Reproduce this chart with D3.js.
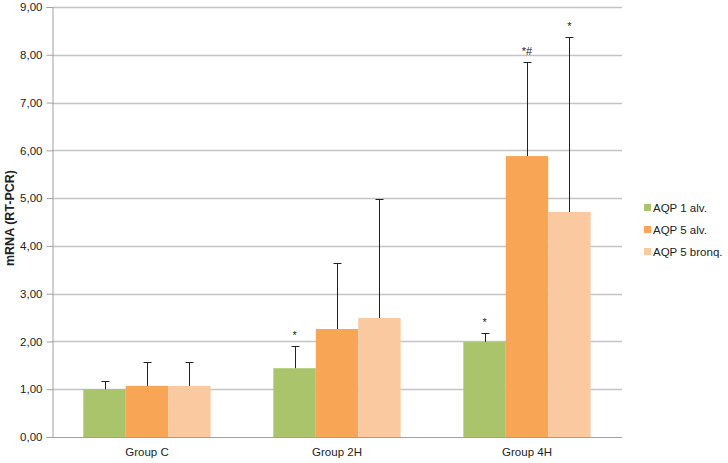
<!DOCTYPE html>
<html>
<head>
<meta charset="utf-8">
<script src="https://cdn.jsdelivr.net/npm/d3@7"></script>
<style>
  body { margin: 0; background: #fff; }
  svg { font-family: "Liberation Sans", Arial, sans-serif; }
</style>
</head>
<body>
<div id="chart"></div>
<script>
// chart data
const groups = ["Group C", "Group 2H", "Group 4H"];
const seriesNames = ["AQP 1 alv.", "AQP 5 alv.", "AQP 5 bronq."];
const seriesColors = ["#aac46c", "#f8a655", "#fbc9a0"];
const aqp1Alv = [1.00, 1.44, 1.99];
const aqp5Alv = [1.07, 2.26, 5.88];
const aqp5Bronq = [1.07, 2.49, 4.71];
// upper end of each error bar
const aqp1AlvErr = [1.18, 1.90, 2.18];
const aqp5AlvErr = [1.58, 3.65, 7.84];
const aqp5BronqErr = [1.58, 4.99, 8.38];
// significance marks above the error bars
const marks = [
    ["", "", ""],
    ["*", "", ""],
    ["*", "*#", "*"]
];
const yTicks = [0, 1, 2, 3, 4, 5, 6, 7, 8, 9];

const width = 728,
      height = 463;
const margin = {left: 52, right: 106, top: 7, bottom: 26};

const values = [aqp1Alv, aqp5Alv, aqp5Bronq];
const errs = [aqp1AlvErr, aqp5AlvErr, aqp5BronqErr];

let svg = d3.select("#chart")
            .append("svg")
            .attr("width", width)
            .attr("height", height);

let x = d3.scaleBand()
          .domain(groups)
          .range([margin.left, width - margin.right])
          .paddingInner(0.33)
          .paddingOuter(0.165);

let xs = d3.scaleBand()
           .domain(seriesNames)
           .range([0, x.bandwidth()]);

let y = d3.scaleLinear()
          .domain([0, 9])
          .range([height - margin.bottom, margin.top]);

const fmt = d => d.toFixed(2).replace(".", ",");

// grid lines
svg.append("g")
   .selectAll("line")
   .data(yTicks.slice(1))
   .join("line")
   .attr("x1", margin.left)
   .attr("x2", width - margin.right)
   .attr("y1", d => Math.round(y(d)) + 0.5)
   .attr("y2", d => Math.round(y(d)) + 0.5)
   .attr("stroke", "#c4c4c4")
   .attr("stroke-width", 1.5);

// y axis
let yAxis = svg.append("g")
   .attr("transform", `translate(${margin.left + 0.5},0)`)
   .call(d3.axisLeft(y).tickValues(yTicks).tickFormat(fmt).tickSize(6).tickPadding(4));
yAxis.select(".domain").attr("stroke", "#a0a0a0");
yAxis.selectAll(".tick line").attr("stroke", "#a0a0a0");
yAxis.selectAll("text").attr("fill", "#222").style("font-size", "11.5px");

// x axis
let xAxis = svg.append("g")
   .attr("transform", `translate(0,${Math.round(y(0)) + 0.5})`)
   .call(d3.axisBottom(x).tickSize(0).tickPadding(10));
xAxis.select(".domain").attr("stroke", "#a0a0a0").attr("d", `M${margin.left},0H${width - margin.right}`);
xAxis.selectAll("text").attr("fill", "#222").style("font-size", "11.5px");

// bars
seriesNames.forEach((name, si) => {
    let g = svg.append("g");
    g.selectAll("rect")
     .data(groups)
     .join("rect")
     .attr("x", d => x(d) + xs(name))
     .attr("width", xs.bandwidth())
     .attr("y", (d, i) => y(values[si][i]))
     .attr("height", (d, i) => y(0) - y(values[si][i]))
     .attr("fill", seriesColors[si]);

    // upper error bars
    g.selectAll("path.err")
     .data(groups)
     .join("path")
     .attr("class", "err")
     .attr("d", (d, i) => {
         let cx = Math.round(x(d) + xs(name) + xs.bandwidth() / 2) + 0.5;
         let top = Math.round(y(errs[si][i])) + 0.5;
         return `M${cx},${y(values[si][i])}V${top}M${cx - 4},${top}H${cx + 4}`;
     })
     .attr("stroke", "#222")
     .attr("fill", "none");

    g.selectAll("text.mark")
     .data(groups)
     .join("text")
     .attr("class", "mark")
     .attr("x", d => x(d) + xs(name) + xs.bandwidth() / 2)
     .attr("y", (d, i) => y(errs[si][i]) - 7)
     .attr("text-anchor", "middle")
     .style("font-size", "11px")
     .attr("fill", "#222")
     .text((d, i) => marks[i][si]);
});

// y axis title
svg.append("text")
   .attr("transform", `translate(14,${y(4.5) - 4}) rotate(-90)`)
   .attr("text-anchor", "middle")
   .style("font-size", "12.5px")
   .style("font-weight", "bold")
   .attr("fill", "#222")
   .text("mRNA (RT-PCR)");

// legend
let legend = svg.append("g")
   .attr("transform", "translate(644,208)");
let item = legend.selectAll("g")
   .data(seriesNames)
   .join("g")
   .attr("transform", (d, i) => `translate(0,${i * 22})`);
item.append("rect")
    .attr("x", 0)
    .attr("y", -4)
    .attr("width", 7)
    .attr("height", 7)
    .attr("fill", (d, i) => seriesColors[i]);
item.append("text")
    .attr("x", 9)
    .attr("y", 0)
    .attr("dy", "0.35em")
    .style("font-size", "11.5px")
    .attr("fill", "#222")
    .text(d => d);
</script>
</body>
</html>
